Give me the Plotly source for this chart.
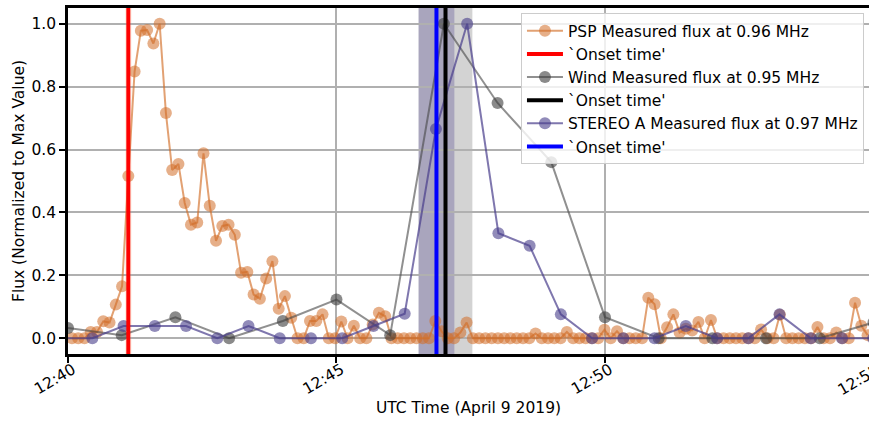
import plotly.graph_objects as go
import pandas as pd

# ---------------- data ----------------
psp_start = "2019-04-09 12:40:04.4"
psp_cadence = "7s"
psp_flux = [
    0, 0, 0, 0.02, 0.02, 0.054, 0.05, 0.107, 0.165, 0.516,
    0.848, 0.978, 0.98, 0.937, 1.0, 0.716, 0.535, 0.554, 0.43, 0.361,
    0.368, 0.588, 0.421, 0.31, 0.357, 0.361, 0.329, 0.208, 0.211, 0.139,
    0.126, 0.19, 0.245, 0.094, 0.134, 0.065, 0, 0, 0.055, 0.055,
    0.076, 0, 0, 0.053, 0, 0.04, 0, 0, 0.044, 0.081,
    0.07, 0, 0, 0, 0, 0, 0, 0, 0.055, 0.022,
    0, 0, 0.018, 0.05, 0, 0, 0, 0, 0, 0,
    0, 0, 0, 0, 0.015, 0, 0, 0, 0, 0.02,
    0, 0, 0, 0, 0, 0.027, 0, 0.022, 0, 0,
    0, 0, 0.129, 0.108, 0, 0.035, 0.076, 0.018, 0.03, 0.025,
    0.052, 0, 0.058, 0, 0, 0, 0, 0, 0, 0,
    0.028, 0, 0, 0.075, 0, 0, 0, 0, 0, 0.036,
    0, 0, 0.018, 0, 0, 0.113, 0.04, 0.01,
]

wind_start = "2019-04-09 12:40:00"
wind_cadence = "60s"
wind_flux = [0.033, 0.01, 0.067, 0.0, 0.055, 0.123, 0.01, 1.0, 0.748, 0.56,
             0.067, 0.0, 0.0, 0.0, 0.0, 0.05]

stereo_start = "2019-04-09 12:39:52.3"
stereo_cadence = "34900ms"
stereo_flux = [0, 0, 0.039, 0.039, 0.039, 0, 0.039, 0, 0, 0,
               0.039, 0.078, 0.665, 1.0, 0.334, 0.294, 0.076, 0, 0, 0,
               0.039, 0, 0, 0.076, 0, 0, 0]

psp_onset = "2019-04-09 12:41:07.4"
wind_onset = "2019-04-09 12:47:01.8"
stereo_onset = "2019-04-09 12:46:51.7"
psp_unc_s = 3.5
wind_unc_s = 30
stereo_unc_s = 20

x_range = ["2019-04-09 12:40:00", "2019-04-09 12:54:55"]
y_range = [-0.05, 1.05]
y_ticks = [0.0, 0.2, 0.4, 0.6, 0.8, 1.0]
extra_tick_label = "12:55"

labels = ["PSP Measured flux at 0.96 MHz", "`Onset time'",
          "Wind Measured flux at 0.95 MHz", "`Onset time'",
          "STEREO A Measured flux at 0.97 MHz", "`Onset time'"]

# --------------- figure ----------------
psp_t = pd.date_range(psp_start, periods=len(psp_flux), freq=psp_cadence)
wind_t = pd.date_range(wind_start, periods=len(wind_flux), freq=wind_cadence)
stereo_t = pd.date_range(stereo_start, periods=len(stereo_flux), freq=stereo_cadence)

FONT = "DejaVu Sans"
FS = 15.5
fig = go.Figure()

def series(x, y, name, line_c, mark_c, grp):
    fig.add_trace(go.Scatter(
        x=x, y=y, mode="lines+markers", name=name, legendgroup=grp,
        line=dict(color=line_c, width=2),
        marker=dict(color=mark_c, size=12, line=dict(width=0)),
    ))

def onset_legend(name, color, grp):
    fig.add_trace(go.Scatter(x=[None], y=[None], mode="lines", name=name,
                             legendgroup=grp, line=dict(color=color, width=4)))

series(psp_t, psp_flux, labels[0], "rgba(210,110,40,0.65)", "rgba(210,110,40,0.55)", "g1")
onset_legend(labels[1], "#ff0000", "g2")
series(wind_t, wind_flux, labels[2], "rgba(70,70,70,0.6)", "rgba(60,60,60,0.6)", "g3")
onset_legend(labels[3], "#000000", "g4")
series(stereo_t, stereo_flux, labels[4], "rgba(72,61,139,0.7)", "rgba(72,61,139,0.6)", "g5")
onset_legend(labels[5], "#0000ff", "g6")

def band(center, half_s, color):
    c = pd.Timestamp(center)
    d = pd.Timedelta(seconds=half_s)
    fig.add_shape(type="rect", xref="x", yref="paper", x0=c - d, x1=c + d,
                  y0=0, y1=1, fillcolor=color, line=dict(width=0), layer="below")

def vline(at, color):
    fig.add_shape(type="line", xref="x", yref="paper", x0=at, x1=at, y0=0, y1=1,
                  line=dict(color=color, width=4), layer="above")

band(psp_onset, psp_unc_s, "rgba(240,160,90,0.2)")
band(wind_onset, wind_unc_s, "rgba(128,128,128,0.35)")
band(stereo_onset, stereo_unc_s, "rgba(72,61,139,0.3)")
vline(psp_onset, "#ff0000")
vline(stereo_onset, "#0000ff")
vline(wind_onset, "#000000")

fig.add_annotation(text=extra_tick_label, xref="paper", yref="paper",
                   x=1.0205, y=-0.011, xanchor="right", yanchor="top",
                   textangle=-30, showarrow=False,
                   font=dict(family=FONT, size=FS, color="black"))

fig.update_layout(
    width=869, height=423,
    margin=dict(l=68, r=0, t=8, b=69),
    paper_bgcolor="white", plot_bgcolor="white",
    font=dict(family=FONT, size=FS, color="black"),
    showlegend=True,
    legend=dict(x=0.5655, y=0.985, xanchor="left", yanchor="top",
                bgcolor="rgba(255,255,255,0.8)", bordercolor="#cccccc",
                borderwidth=1, tracegroupgap=0, itemwidth=36,
                font=dict(size=FS, family=FONT)),
)
fig.update_xaxes(
    type="date", range=x_range, tickformat="%H:%M", dtick=300000,
    tick0="2019-04-09 12:40:00", tickangle=-30,
    ticklabelstandoff=-8, ticklabelshift=5,
    showgrid=True, gridcolor="#b0b0b0", gridwidth=1.6,
    showline=True, linecolor="black", linewidth=2.5, mirror=True,
    ticks="outside", ticklen=6, tickwidth=1.5, tickcolor="black",
    zeroline=False, tickfont=dict(size=FS),
    title=dict(text="UTC Time (April 9 2019)", font=dict(size=FS), standoff=6),
)
fig.update_yaxes(
    range=y_range, tickvals=y_ticks, tickformat=".1f",
    showgrid=True, gridcolor="#b0b0b0", gridwidth=1.6,
    showline=True, linecolor="black", linewidth=2.5,
    ticks="outside", ticklen=6, tickwidth=1.5, tickcolor="black",
    zeroline=False, tickfont=dict(size=FS),
    title=dict(text="Flux (Normalized to Max Value)", font=dict(size=FS), standoff=4),
)

fig.write_html("out.html")
